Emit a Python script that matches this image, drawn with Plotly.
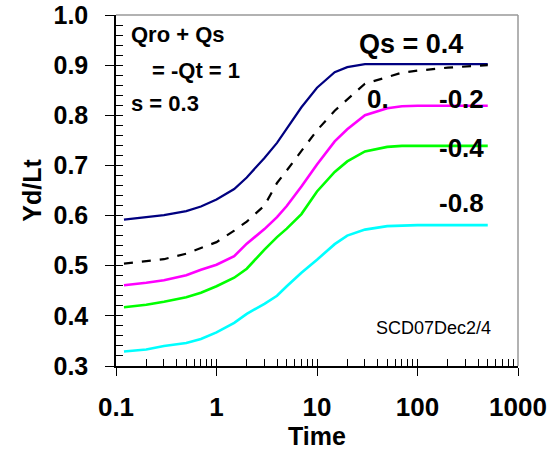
import plotly.graph_objects as go

# ---- data ----
time = [0.12, 0.15, 0.2, 0.3, 0.5, 0.7, 1, 1.5, 2, 3, 4, 5, 7, 10, 15, 20, 30, 50, 70, 100, 200, 500]

qs_p04 = [0.592, 0.594, 0.598, 0.601, 0.609, 0.618, 0.632, 0.653, 0.676, 0.715, 0.745, 0.773, 0.816,
          0.855, 0.886, 0.896, 0.902, 0.902, 0.902, 0.902, 0.902, 0.902]
qs_0 = [0.504, 0.506, 0.509, 0.513, 0.524, 0.535, 0.547, 0.570, 0.588, 0.620, 0.665, 0.690, 0.728,
        0.770, 0.809, 0.832, 0.863, 0.876, 0.885, 0.889, 0.895, 0.900]
qs_m02 = [0.461, 0.463, 0.466, 0.471, 0.481, 0.492, 0.502, 0.519, 0.544, 0.573, 0.597, 0.619, 0.658,
          0.702, 0.748, 0.772, 0.800, 0.814, 0.818, 0.819, 0.819, 0.819]
qs_m04 = [0.417, 0.419, 0.422, 0.428, 0.437, 0.446, 0.459, 0.476, 0.494, 0.532, 0.557, 0.574, 0.603,
          0.648, 0.687, 0.708, 0.728, 0.737, 0.739, 0.739, 0.739, 0.739]
qs_m08 = [0.329, 0.331, 0.333, 0.340, 0.346, 0.354, 0.367, 0.386, 0.404, 0.424, 0.440, 0.459, 0.486,
          0.512, 0.543, 0.560, 0.572, 0.579, 0.580, 0.581, 0.581, 0.581]

x_ticks = [0.1, 1, 10, 100, 1000]
x_ticktext = ["0.1", "1", "10", "100", "1000"]
y_ticks = [0.3, 0.4, 0.5, 0.6, 0.7, 0.8, 0.9, 1.0]
y_ticktext = ["0.3", "0.4", "0.5", "0.6", "0.7", "0.8", "0.9", "1.0"]
x_minor = [m * 10 ** e for e in (-1, 0, 1, 2) for m in range(1, 10)] + [1000]
y_minor = [round(0.3 + 0.02 * i, 2) for i in range(36)]

series = [
    ("Qs = 0.4", qs_p04, "#000080", "solid", 2.2),
    ("Qs = 0", qs_0, "#000000", "dash", 2.2),
    ("Qs = -0.2", qs_m02, "#FF00FF", "solid", 2.6),
    ("Qs = -0.4", qs_m04, "#00FF00", "solid", 2.6),
    ("Qs = -0.8", qs_m08, "#00FFFF", "solid", 2.6),
]

FONT = "Liberation Sans, Arial, sans-serif"

fig = go.Figure()
for name, ys, col, dash, w in series:
    fig.add_trace(go.Scatter(x=time, y=ys, mode="lines", name=name,
                             line=dict(color=col, width=w, dash=dash)))

fig.update_layout(
    width=558, height=458,
    margin=dict(l=116, r=40, t=15, b=92, autoexpand=False),
    paper_bgcolor="white", plot_bgcolor="white",
    showlegend=False,
    font=dict(family=FONT, color="black", size=26, weight="bold"),
    xaxis=dict(type="log", range=[-1, 3], tickvals=x_ticks, ticktext=x_ticktext,
               ticks="outside", ticklen=8, tickwidth=1.2, tickcolor="black",
               showline=True, linecolor="black", linewidth=1.5, showgrid=False, zeroline=False,
               automargin=False, ticklabelstandoff=9, ticklabeloverflow="allow",
               tickfont=dict(size=26, family=FONT, weight="bold"),
               title=dict(text="Time", font=dict(size=25, family=FONT, weight="bold"), standoff=7)),
    yaxis=dict(range=[0.3, 1.0], tickvals=y_ticks, ticktext=y_ticktext,
               ticks="outside", ticklen=9, tickwidth=1.2, tickcolor="black",
               showline=True, linecolor="black", linewidth=1.5, showgrid=False, zeroline=False,
               automargin=False, ticklabelstandoff=12, ticklabeloverflow="allow",
               tickfont=dict(size=25, family=FONT, weight="bold"),
               title=dict(text="Yd/Lt", font=dict(size=25, family=FONT, weight="bold"), standoff=5)),
    xaxis2=dict(type="log", range=[-1, 3], overlaying="x", anchor="y", side="bottom",
                tickvals=x_minor, ticks="inside", ticklen=7, tickwidth=1, tickcolor="black",
                showticklabels=False, showline=False, showgrid=False, zeroline=False),
    yaxis2=dict(range=[0.3, 1.0], overlaying="y", anchor="x", side="left",
                tickvals=y_minor, ticks="inside", ticklen=7, tickwidth=1, tickcolor="black",
                showticklabels=False, showline=False, showgrid=False, zeroline=False),
)

# invisible trace so the overlay axes are drawn
fig.add_trace(go.Scatter(x=[], y=[], xaxis="x2", yaxis="y2", showlegend=False, hoverinfo="skip"))

# grey top / right frame
fig.add_shape(type="line", xref="paper", yref="paper", x0=0, x1=1, y0=1, y1=1,
              line=dict(color="#999999", width=1.5), layer="above")
fig.add_shape(type="line", xref="paper", yref="paper", x0=1, x1=1, y0=0, y1=1,
              line=dict(color="#999999", width=1.5), layer="above")

def ann(text, x, y, xanchor, size, weight="bold"):
    fig.add_annotation(text=text, x=x, y=y, xref="paper", yref="paper", xanchor=xanchor,
                       yanchor="middle", showarrow=False,
                       font=dict(size=size, family=FONT, weight=weight, color="black"))

ann("Qro + Qs", 0.032, 0.944, "left", 22)
ann("= -Qt = 1", 0.085, 0.842, "left", 22)
ann("s = 0.3", 0.032, 0.749, "left", 22)
ann("Qs = 0.4", 0.868, 0.916, "right", 27)
ann("0.", 0.619, 0.760, "left", 26)
ann("-0.2", 0.920, 0.760, "right", 26)
ann("-0.4", 0.920, 0.621, "right", 26)
ann("-0.8", 0.920, 0.465, "right", 26)
ann("SCD07Dec2/4", 0.938, 0.108, "right", 18, weight="normal")

fig.write_html("out.html", config={"displayModeBar": False},
               post_script="document.body.style.margin='0';document.body.style.overflow='hidden';")
